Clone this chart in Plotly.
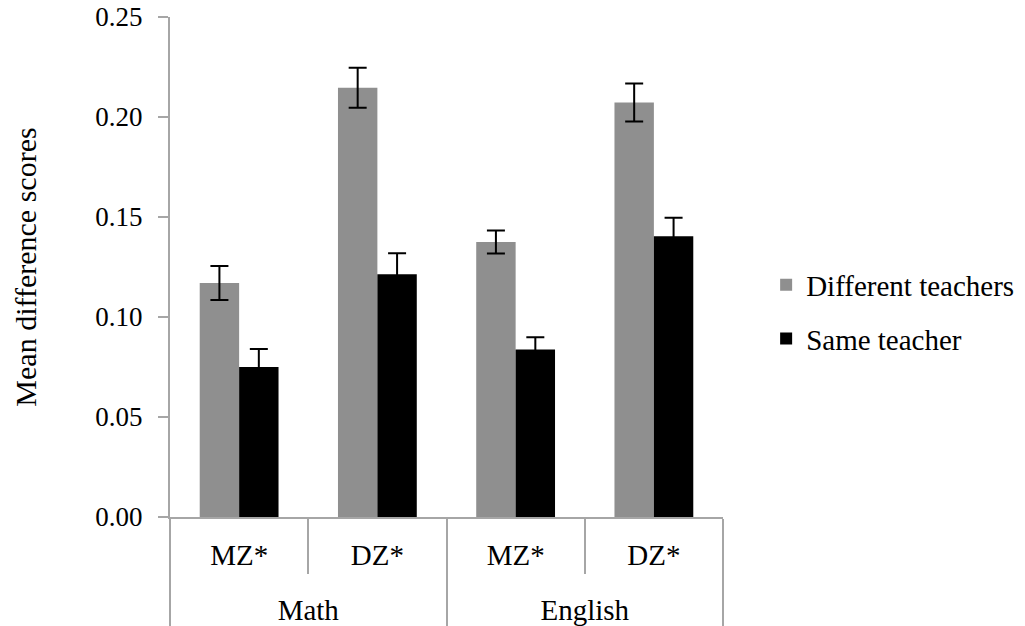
import plotly.graph_objects as go

subjects = ["Math", "Math", "English", "English"]
twin_types = ["MZ*", "DZ*", "MZ*", "DZ*"]

different_vals = [0.117, 0.2146, 0.1375, 0.2073]
different_err = [0.0085, 0.0100, 0.0057, 0.0095]
same_vals = [0.075, 0.1214, 0.0837, 0.1404]
same_err = [0.0090, 0.0105, 0.0062, 0.0092]

y_ticks = [0.0, 0.05, 0.10, 0.15, 0.20, 0.25]

FONT = "Liberation Serif"

# small trailing blank line under the inner labels pushes the outer level down
inner_labels = [t + "<br><span style='font-size:2px'> </span>" for t in twin_types]

fig = go.Figure()
fig.add_trace(go.Bar(
    name="Different teachers",
    x=[subjects, inner_labels],
    y=different_vals,
    marker=dict(color="#8f8f8f", line=dict(width=0)),
    error_y=dict(type="data", array=different_err, visible=True,
                 color="black", thickness=2, width=9),
    legendgroup="a",
))
fig.add_trace(go.Bar(
    name="Same teacher",
    x=[subjects, inner_labels],
    y=same_vals,
    marker=dict(color="#000000", line=dict(width=0)),
    error_y=dict(type="data", array=same_err, visible=True,
                 color="black", thickness=2, width=9),
    legendgroup="b",
))

fig.update_layout(
    width=1025, height=626,
    margin=dict(l=162, r=310, t=9, b=117),
    paper_bgcolor="white", plot_bgcolor="white",
    barmode="group", bargap=0.43, bargroupgap=0,
    font=dict(family=FONT, size=28, color="black"),
    showlegend=True,
    legend=dict(x=1.078, y=0.41, xanchor="left", yanchor="middle",
                font=dict(family=FONT, size=29, color="black"),
                tracegroupgap=13, bgcolor="rgba(0,0,0,0)"),
    yaxis=dict(
        range=[0, 0.25], tickvals=y_ticks, tickformat=".2f",
        showgrid=False, zeroline=False, automargin=False,
        showline=True, linecolor="#a6a6a6", linewidth=2,
        ticks="outside", ticklen=10, tickcolor="#a6a6a6", tickwidth=2,
        ticklabelstandoff=10, ticklabeloverflow="allow",
        tickfont=dict(family=FONT, size=27),
        title=dict(text="Mean difference scores", font=dict(family=FONT, size=30),
                   standoff=50),
    ),
    xaxis=dict(
        type="multicategory", automargin=False,
        showgrid=False, zeroline=False,
        showline=True, linecolor="#a6a6a6", linewidth=2,
        ticks="outside", tickson="boundaries", ticklen=55,
        tickcolor="#a6a6a6", tickwidth=2,
        ticklabelstandoff=11, ticklabeloverflow="allow",
        showdividers=True, dividercolor="#a6a6a6", dividerwidth=2,
        tickfont=dict(family=FONT, size=29),
    ),
)

fig.write_html("out.html")
